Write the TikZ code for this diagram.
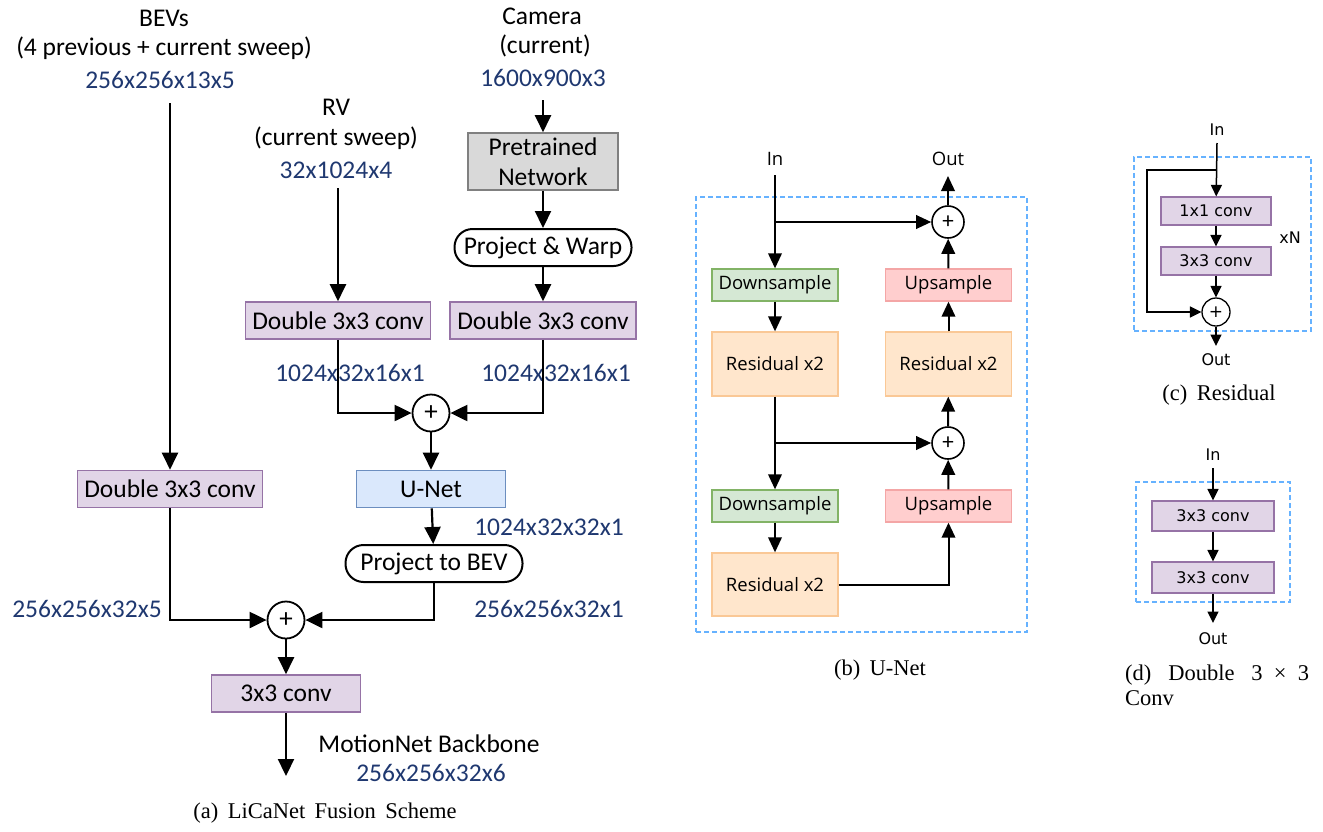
\documentclass[tikz,border=0pt]{standalone}
\usepackage{fontspec}
\setmainfont{Liberation Serif}
\newfontfamily\calf{Carlito}
\newfontfamily\osf{Open Sans}
\newfontfamily\dvf{DejaVu Sans}
\usetikzlibrary{arrows.meta,calc}
\definecolor{navy}{RGB}{31,56,112}
\definecolor{pfill}{RGB}{225,213,231}
\definecolor{pdraw}{RGB}{150,115,166}
\definecolor{bfill}{RGB}{218,232,252}
\definecolor{bdraw}{RGB}{108,142,191}
\definecolor{gfill}{RGB}{217,217,217}
\definecolor{gdraw}{RGB}{128,128,128}
\definecolor{grfill}{RGB}{213,232,212}
\definecolor{grdraw}{RGB}{130,179,102}
\definecolor{ofill}{RGB}{255,230,204}
\definecolor{odraw}{RGB}{250,200,150}
\definecolor{rfill}{RGB}{255,206,206}
\definecolor{rdraw}{RGB}{244,166,166}
\definecolor{dashc}{RGB}{102,178,255}
\newcommand{\myfa}{\calf\fontsize{25.5}{30}\selectfont}
\newcommand{\myfb}{\osf\fontsize{18.5}{22}\selectfont}
\newcommand{\myfc}{\dvf\fontsize{16}{19}\selectfont}
\newcommand{\mycap}{\rmfamily\fontsize{22.5}{26}\selectfont}
\tikzset{
  lbl/.style={inner sep=0pt, font=\myfa, align=center},
  blbl/.style={inner sep=0pt, font=\myfa, text=navy},
  abox/.style={draw, line width=1.6pt, inner sep=0pt, font=\myfa, align=center},
  pbox/.style={abox, fill=pfill, draw=pdraw},
  rbox/.style={abox, draw=black, line width=2pt, rounded corners=18pt, minimum height=37pt},
  aarr/.style={line width=2.2pt, -{Triangle[length=17pt,width=16pt]}},
  plusa/.style={circle, draw, line width=1.8pt, minimum size=37pt, inner sep=0pt, font=\calf\fontsize{27}{27}\selectfont},
  bbox/.style={draw, line width=1.3pt, inner sep=0pt, font=\myfb, minimum width=126pt},
  barr/.style={line width=2pt, -{Triangle[length=15pt,width=13.5pt]}},
  plusb/.style={circle, draw, line width=1.6pt, minimum size=32pt, inner sep=0pt, font=\calf\fontsize{23}{23}\selectfont},
  blab/.style={inner sep=0pt, font=\myfb},
  cbox/.style={draw=pdraw, fill=pfill, line width=1.2pt, inner sep=0pt, font=\myfc},
  carr/.style={line width=1.5pt, -{Triangle[length=11.5pt,width=11pt]}},
  clab/.style={inner sep=0pt, font=\myfc},
  plusc/.style={circle, draw, line width=1.3pt, minimum size=28pt, inner sep=0pt, font=\dvf\fontsize{17}{17}\selectfont},
  dashbox/.style={draw=dashc, dashed, dash pattern=on 5pt off 3pt, line width=1.3pt, inner sep=0pt},
  capt/.style={inner sep=0pt, font=\mycap}
}
\begin{document}
\begin{tikzpicture}[x=1pt,y=-1pt]
\useasboundingbox (0,0) rectangle (1323,831);
% ---------------- (a)
\node[lbl] (bev1) at (164,18) {BEVs};
\node[lbl] (bev2) at (164,48) {(4 previous + current sweep)};
\node[blbl] (bev3) at (160,80) {256x256x13x5};
\node[lbl] (rv1) at (336,107) {RV};
\node[lbl] (rv2) at (336,138) {(current sweep)};
\node[blbl] (rv3) at (336,170) {32x1024x4};
\node[lbl] (cam1) at (542,16) {Camera};
\node[lbl] (cam2) at (545,46) {(current)};
\node[blbl] (cam3) at (543,78) {1600x900x3};

\node[abox, fill=gfill, draw=gdraw, minimum width=150pt, minimum height=57pt] (pre) at (543,161.5) {Pretrained\\Network};
\node[rbox, minimum width=177pt] (pw) at (543,247.5) {Project \& Warp};
\node[pbox, minimum width=186pt, minimum height=37pt] (dc) at (543,320.5) {Double 3x3 conv};
\node[pbox, minimum width=185pt, minimum height=37pt] (dr) at (338,320.5) {Double 3x3 conv};
\node[pbox, minimum width=185pt, minimum height=37pt] (dl) at (170,489) {Double 3x3 conv};
\node[blbl] (l1) at (350,373) {1024x32x16x1};
\node[blbl] (l2) at (556,373) {1024x32x16x1};
\node[plusa] (p1) at (431,413) {+};
\node[abox, fill=bfill, draw=bdraw, minimum width=149pt, minimum height=37pt] (unet) at (431,489) {U-Net};
\node[blbl] (l3) at (549,527) {1024x32x32x1};
\node[rbox, minimum width=177pt] (ptb) at (434,563.5) {Project to BEV};
\node[blbl] (l4) at (549,609) {256x256x32x1};
\node[blbl] (l5) at (87,609) {256x256x32x5};
\node[plusa] (p2) at (286,620) {+};
\node[pbox, minimum width=149pt, minimum height=37pt] (c33) at (286,693.5) {3x3 conv};
\node[lbl] (mn) at (429,744) {MotionNet Backbone};
\node[blbl] (l6) at (431,773) {256x256x32x6};
\node[capt] (capa) at (325,813) {(a)\ \,LiCaNet\ \,Fusion\ \,Scheme};

\coordinate (bs) at (170,103);
\coordinate (rs) at (338,188);
\coordinate (cs) at (543,100);
\coordinate (ae) at (286,776);
\draw[aarr] (bs) -- (dl);
\draw[aarr] (rs) -- (dr);
\draw[aarr] (cs) -- (pre);
\draw[aarr] (pre) -- (pw);
\draw[aarr] (pw) -- (dc);
\draw[aarr] (dr.south) |- (p1.west);
\draw[aarr] (dc.south) |- (p1.east);
\draw[aarr] (p1) -- (unet);
\draw[aarr] (unet) -- (ptb);
\draw[aarr] (ptb.south) |- (p2.east);
\draw[aarr] (dl.south) |- (p2.west);
\draw[aarr] (p2) -- (c33);
\draw[aarr] (c33) -- (ae);

% ---------------- (b)
\node[dashbox, minimum width=331pt, minimum height=435pt] (uframe) at (861.5,414.5) {};
\node[blab] (uin) at (775,159) {In};
\node[blab] (uout) at (948,159) {Out};
\coordinate (uis) at (775,175);
\coordinate (uoe) at (948,176);
\node[bbox, fill=grfill, draw=grdraw, minimum height=32pt] (ds1) at (775,285) {Downsample};
\node[bbox, fill=ofill, draw=odraw, minimum height=64pt] (res1) at (775,364) {Residual x2};
\node[bbox, fill=grfill, draw=grdraw, minimum height=32pt] (ds2) at (775,506) {Downsample};
\node[bbox, fill=ofill, draw=odraw, minimum height=63pt] (res2) at (775,584.5) {Residual x2};
\node[bbox, fill=rfill, draw=rdraw, minimum height=32pt] (up1) at (948.5,285) {Upsample};
\node[bbox, fill=ofill, draw=odraw, minimum height=64pt] (resu) at (948.5,364) {Residual x2};
\node[bbox, fill=rfill, draw=rdraw, minimum height=32pt] (up2) at (948.5,506) {Upsample};
\node[plusb] (q1) at (948,222) {+};
\node[plusb] (q2) at (948,443) {+};
\node[capt] (capb) at (880,670) {(b)\ \,U-Net};
\draw[barr] (uis) -- (ds1);
\draw[barr] (uis|-q1) -- (q1);
\draw[barr] (ds1) -- (res1);
\draw[barr] (res1) -- (ds2);
\draw[barr] (res1.south|-q2) -- (q2);
\draw[barr] (ds2) -- (res2);
\draw[barr] (res2.east) -| (up2.south);
\draw[barr] (up2) -- (q2);
\draw[barr] (q2) -- (resu);
\draw[barr] (resu) -- (up1);
\draw[barr] (up1) -- (q1);
\draw[barr] (q1) -- (uoe);

% ---------------- (c)
\node[dashbox, minimum width=177pt, minimum height=174pt] (rframe) at (1222.5,244) {};
\node[clab] (rin) at (1217,130) {In};
\coordinate (ris) at (1217,143);
\node[cbox, minimum width=110pt, minimum height=28pt] (r1) at (1216,211) {1x1 conv};
\node[cbox, minimum width=110pt, minimum height=28pt] (r3) at (1216,261) {3x3 conv};
\node[plusc] (rp) at (1216,312) {+};
\coordinate (rl) at (1147,170);
\coordinate (roe) at (1216,346);
\node[clab] (rout) at (1216,360) {Out};
\node[clab] (xn) at (1290,238) {xN};
\node[capt] (capc) at (1219,395) {(c)\ \,Residual};
\draw[carr] (ris) -- (r1);
\draw[carr] (ris|-rl) -- (rl) |- (rp.west);
\draw[carr] (r1) -- (r3);
\draw[carr] (r3) -- (rp);
\draw[carr] (rp) -- (roe);

% ---------------- (d)
\node[dashbox, minimum width=154pt, minimum height=120pt] (dframe) at (1213,542) {};
\node[clab] (din) at (1213,455) {In};
\coordinate (dis) at (1213,468);
\node[cbox, minimum width=122pt, minimum height=30pt] (d1) at (1213,516) {3x3 conv};
\node[cbox, minimum width=122pt, minimum height=31pt] (d2) at (1213,577.5) {3x3 conv};
\coordinate (doe) at (1213,623);
\node[clab] (dout) at (1213,639) {Out};
\node[capt, anchor=west] (capd1) at (1125,675) {(d)\ \ \ Double\ \ \ 3\ \ ×\ \ 3};
\node[capt, anchor=west] (capd2) at (1125,698) {Conv};
\draw[carr] (dis) -- (d1);
\draw[carr] (d1) -- (d2);
\draw[carr] (d2) -- (doe);
\end{tikzpicture}
\end{document}
